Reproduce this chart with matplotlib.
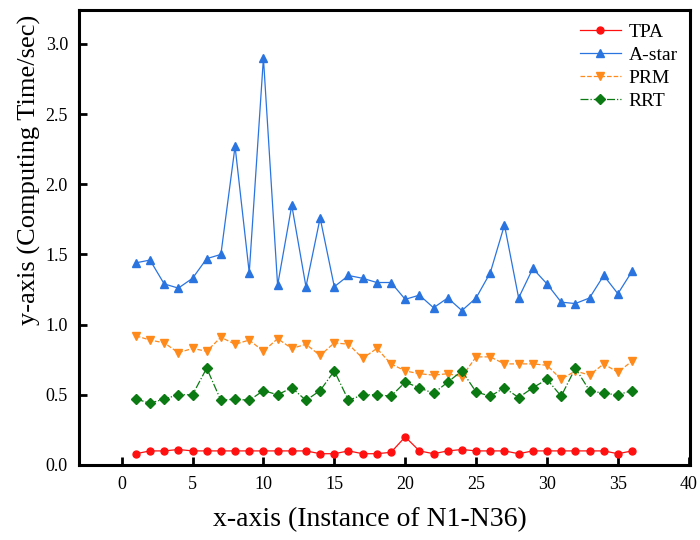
import matplotlib
matplotlib.use("Agg")
import matplotlib.pyplot as plt
import numpy as np

instances = np.arange(1, 37)

tpa = [0.08, 0.10, 0.10, 0.11, 0.10, 0.10, 0.10, 0.10, 0.10, 0.10, 0.10, 0.10,
       0.10, 0.08, 0.08, 0.10, 0.08, 0.08, 0.09, 0.20, 0.10, 0.08, 0.10, 0.11,
       0.10, 0.10, 0.10, 0.08, 0.10, 0.10, 0.10, 0.10, 0.10, 0.10, 0.08, 0.10]

astar = [1.44, 1.46, 1.29, 1.26, 1.33, 1.47, 1.50, 2.27, 1.37, 2.90, 1.28, 1.85,
         1.27, 1.76, 1.27, 1.35, 1.33, 1.30, 1.30, 1.18, 1.21, 1.12, 1.19, 1.10,
         1.19, 1.37, 1.71, 1.19, 1.40, 1.29, 1.16, 1.15, 1.19, 1.35, 1.22, 1.38]

prm = [0.92, 0.89, 0.87, 0.80, 0.83, 0.81, 0.91, 0.86, 0.89, 0.81, 0.90, 0.83,
       0.86, 0.78, 0.87, 0.86, 0.76, 0.83, 0.72, 0.67, 0.65, 0.64, 0.65, 0.63,
       0.77, 0.77, 0.72, 0.72, 0.72, 0.71, 0.61, 0.67, 0.64, 0.72, 0.66, 0.74]

rrt = [0.47, 0.44, 0.47, 0.50, 0.50, 0.69, 0.46, 0.47, 0.46, 0.53, 0.50, 0.55,
       0.46, 0.53, 0.67, 0.46, 0.50, 0.50, 0.49, 0.59, 0.55, 0.51, 0.59, 0.67,
       0.52, 0.49, 0.55, 0.48, 0.55, 0.61, 0.49, 0.69, 0.53, 0.51, 0.50, 0.53]

plt.rcParams["font.family"] = ["Liberation Serif", "DejaVu Serif"]

fig = plt.figure(figsize=(7, 5.4), dpi=100)
ax = fig.add_axes([0.113, 0.139, 0.873, 0.842])

ax.plot(instances, tpa, "-o", color="#ff1010", lw=0.9, ms=5, label="TPA")
ax.plot(instances, astar, "-^", color="#2a74e0", lw=0.9, ms=6, label="A-star")
ax.plot(instances, prm, "--v", color="#ff8a1c", lw=0.9, ms=6, label="PRM")
ax.plot(instances, rrt, "-.D", color="#0c7a12", lw=0.9, ms=5, label="RRT")

ax.set_xlim(-3, 40.1)
ax.set_ylim(0, 3.24)
ax.set_xticks(np.arange(0, 41, 5))
ax.set_yticks(np.arange(0, 3.01, 0.5))
ax.yaxis.set_major_formatter(matplotlib.ticker.FormatStrFormatter("%.1f"))

for s in ax.spines.values():
    s.set_linewidth(2.2)
ax.tick_params(direction="in", length=6, width=2, labelsize=13, pad=8)

ax.set_xlabel("x-axis (Instance of N1-N36)", fontsize=20)
ax.xaxis.set_label_coords(0.476, -0.093)
ax.set_ylabel("y-axis (Computing Time/sec)", fontsize=19)
ax.yaxis.set_label_coords(-0.062, 0.648)

ax.legend(loc="upper right", frameon=False, fontsize=14, handlelength=2.1,
          handletextpad=0.4, labelspacing=0.28, borderaxespad=0.25)

fig.savefig("out.png", dpi=100)
